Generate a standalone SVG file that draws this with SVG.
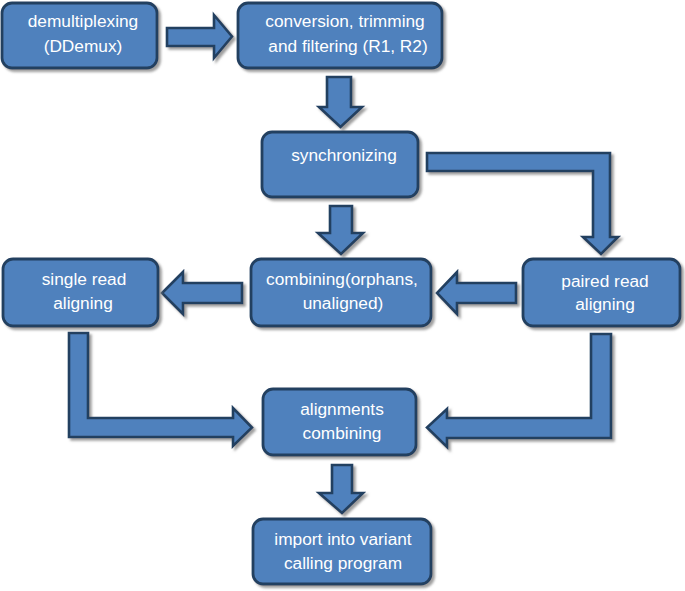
<svg xmlns="http://www.w3.org/2000/svg" width="685" height="591" viewBox="0 0 685 591">
<defs>
<filter id="sh" x="-10%" y="-10%" width="130%" height="130%">
<feDropShadow dx="2.5" dy="2.5" stdDeviation="1.2" flood-color="#7f7f7f" flood-opacity="0.75"/>
</filter>
<style>
.box{fill:#4f81bd;stroke:#243f60;stroke-width:2.8;filter:url(#sh)}
.arr{fill:#4f81bd;stroke:#243f60;stroke-width:2.6;stroke-linejoin:miter;filter:url(#sh)}
text{font-family:"Liberation Sans",Arial,sans-serif;font-size:17.3px;fill:#ffffff;text-anchor:middle}
</style>
</defs>
<rect width="685" height="591" fill="#ffffff"/>
<g id="connectors">
<polygon class="arr" points="167,28 214,28 214,15 232,36.5 214,58 214,46 167,46"/>
<polygon class="arr" points="327,77 351,77 351,107 362,107 340.5,127 319,107 327,107"/>
<polygon class="arr" points="330,206 352,206 352,233 363,233 341,254 318,233 330,233"/>
<polygon class="arr" points="427,153 610,153 610,237 618,237 601,254 583,237 593,237 593,171 427,171"/>
<polygon class="arr" points="242,283 183,283 183,272 162,293 183,314 183,303 242,303"/>
<polygon class="arr" points="516,283 457,283 457,272 437,293 457,314 457,303 516,303"/>
<polygon class="arr" points="69,333 88,333 88,418 233,418 233,408 252,427.5 233,446 233,437 69,437"/>
<polygon class="arr" points="611,334 611,438 447,438 447,447 427,427.5 447,409 447,418 591,418 591,334"/>
<polygon class="arr" points="332,465 352,465 352,493 363,493 342,513 319,493 332,493"/>
</g>
<g id="n1"><rect class="box" x="2" y="3" width="155" height="65" rx="10"/><text x="83" y="27">demultiplexing</text><text x="83" y="52">(DDemux)</text></g>
<g id="n2"><rect class="box" x="238" y="3" width="204" height="65" rx="10"/><text x="345" y="27">conversion, trimming</text><text x="348" y="52">and filtering (R1, R2)</text></g>
<g id="n3"><rect class="box" x="262" y="132" width="156" height="65" rx="10"/><text x="344" y="161">synchronizing</text></g>
<g id="n4"><rect class="box" x="3" y="259" width="155" height="67" rx="10"/><text x="84" y="285">single read</text><text x="83" y="309">aligning</text></g>
<g id="n5"><rect class="box" x="251" y="259" width="180" height="67" rx="10"/><text x="342" y="285">combining(orphans,</text><text x="343" y="309">unaligned)</text></g>
<g id="n6"><rect class="box" x="523" y="259" width="157" height="67" rx="10"/><text x="605" y="287">paired read</text><text x="605" y="310">aligning</text></g>
<g id="n7"><rect class="box" x="263" y="389" width="153" height="66" rx="10"/><text x="342" y="415">alignments</text><text x="342" y="439">combining</text></g>
<g id="n8"><rect class="box" x="253" y="519" width="178" height="65" rx="10"/><text x="343" y="545">import into variant</text><text x="343" y="569">calling program</text></g>
</svg>
